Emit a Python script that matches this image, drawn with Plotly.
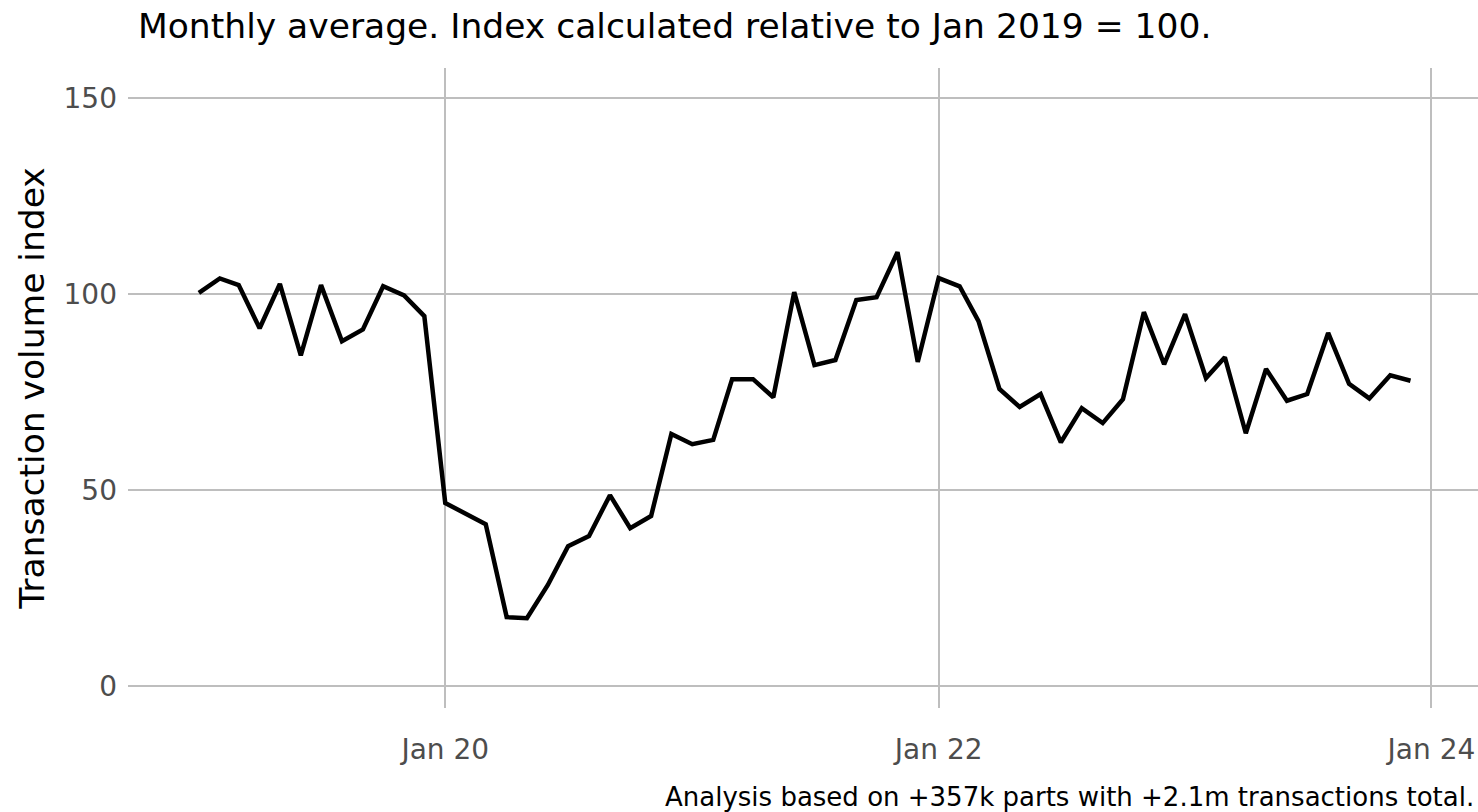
import pandas as pd
import plotly.graph_objects as go

# Monthly dates Jan 2019 .. Dec 2023
months = pd.date_range("2019-01-01", "2023-12-01", freq="MS").strftime("%Y-%m-%d").tolist()

index_values = [
    100.3, 104.0, 102.3, 91.3, 102.6, 84.4, 102.3, 88.0, 91.0, 102.0, 99.7, 94.4,
    46.7, 44.0, 41.3, 17.6, 17.3, 25.8, 35.7, 38.3, 48.7, 40.3, 43.4, 64.3,
    61.7, 62.8, 78.3, 78.3, 73.7, 100.5, 81.9, 83.2, 98.5, 99.2, 110.7, 82.7,
    104.1, 102.0, 93.1, 75.8, 71.2, 74.5, 62.2, 70.9, 67.1, 73.2, 95.4, 82.1,
    94.9, 78.6, 83.9, 64.5, 80.9, 72.8, 74.5, 90.1, 77.1, 73.4, 79.3, 77.9,
]

x_tick_vals = ["2020-01-01", "2022-01-01", "2024-01-01"]
x_tick_text = ["Jan 20", "Jan 22", "Jan 24"]
y_tick_vals = [0, 50, 100, 150]

title_text = "Monthly average. Index calculated relative to Jan 2019 = 100."
y_title = "Transaction volume index"
caption = "Analysis based on +357k parts with +2.1m transactions total."

FONT = "DejaVu Sans"
W, H = 1478, 812

fig = go.Figure()
fig.add_trace(go.Scatter(
    x=months, y=index_values, mode="lines",
    line=dict(color="black", width=4.5),
    showlegend=False,
))

fig.update_layout(
    width=W, height=H,
    margin=dict(l=128, r=0, t=68, b=104),
    paper_bgcolor="white", plot_bgcolor="white",
    font=dict(family=FONT, color="#4d4d4d"),
    title=dict(
        text=title_text, font=dict(family=FONT, size=34.5, color="black"),
        xref="container", yref="container", x=138 / W, xanchor="left",
        y=1 - 26 / H, yanchor="middle",
    ),
    xaxis=dict(
        type="date", range=["2018-09-18", "2024-03-10"],
        tickvals=x_tick_vals, ticktext=x_tick_text,
        tickfont=dict(family=FONT, size=28, color="#4d4d4d"),
        showgrid=True, gridcolor="#bebebe", gridwidth=2,
        zeroline=False, showline=False, ticks="",
        ticklabelstandoff=22,
    ),
    yaxis=dict(
        range=[-5.6, 157.7],
        tickvals=y_tick_vals,
        tickfont=dict(family=FONT, size=28, color="#4d4d4d"),
        showgrid=True, gridcolor="#bebebe", gridwidth=2,
        zeroline=False, showline=False, ticks="",
        ticklabelstandoff=10,
        title=dict(text=y_title, font=dict(family=FONT, size=34.5, color="black"), standoff=8),
    ),
    annotations=[dict(
        text=caption, xref="paper", yref="paper", x=1, y=(708 - 797) / 640,
        xanchor="right", yanchor="middle", showarrow=False, xshift=-2,
        font=dict(family=FONT, size=26, color="black"),
    )],
)

fig.write_html(
    "out.html",
    config={"displayModeBar": False},
    post_script="document.body.style.margin='0';document.body.style.overflow='hidden';",
)
